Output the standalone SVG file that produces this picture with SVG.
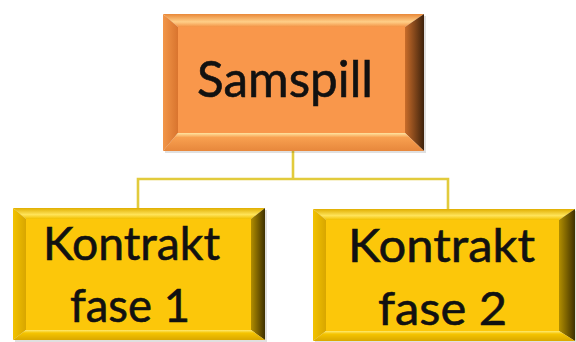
<svg xmlns="http://www.w3.org/2000/svg" width="576" height="342" viewBox="0 0 576 342">
<defs>
<style>
.lbl{font-family:Lato,"Open Sans","Liberation Sans",sans-serif;fill:#111;stroke:#111;stroke-width:0.6;text-anchor:middle}
.conn{fill:none;stroke:#E2CB3C;stroke-width:2.6}
</style>
<linearGradient id="oR" x1="0" y1="0" x2="1" y2="0"><stop offset="0" stop-color="#C96C2A"/><stop offset="1" stop-color="#3E220C"/></linearGradient>
<linearGradient id="oT" x1="0" y1="0" x2="0" y2="1"><stop offset="0" stop-color="#E98838"/><stop offset="0.6" stop-color="#FFCF88"/><stop offset="1" stop-color="#F39244"/></linearGradient>
<linearGradient id="oB" x1="0" y1="0" x2="0" y2="1"><stop offset="0" stop-color="#FFE3A0"/><stop offset="0.25" stop-color="#F8A050"/><stop offset="1" stop-color="#E7873C"/></linearGradient>
<linearGradient id="oL" x1="0" y1="0" x2="1" y2="0"><stop offset="0" stop-color="#F29648"/><stop offset="1" stop-color="#D9742E"/></linearGradient>
<linearGradient id="yR" x1="0" y1="0" x2="1" y2="0"><stop offset="0" stop-color="#B28E00"/><stop offset="1" stop-color="#3E3000"/></linearGradient>
<linearGradient id="yT" x1="0" y1="0" x2="0" y2="1"><stop offset="0" stop-color="#E0AE00"/><stop offset="0.6" stop-color="#FFE45A"/><stop offset="1" stop-color="#F2C000"/></linearGradient>
<linearGradient id="yB" x1="0" y1="0" x2="0" y2="1"><stop offset="0" stop-color="#FFEA70"/><stop offset="0.3" stop-color="#F5C400"/><stop offset="1" stop-color="#D9A800"/></linearGradient>
<linearGradient id="yL" x1="0" y1="0" x2="1" y2="0"><stop offset="0" stop-color="#F2C200"/><stop offset="1" stop-color="#D8A600"/></linearGradient>
</defs>
<rect width="576" height="342" fill="#FFFFFF"/>
<g id="connectors">
<polyline class="conn" points="293,151 293,179"/>
<polyline class="conn" points="138,208 138,179 448,179 448,209"/>
</g>
<g id="samspill">
<rect x="165" y="16" width="261" height="137" fill="#000" opacity="0.12"/>
<polygon points="163,14 424,14 405,27 178,27" fill="url(#oT)"/>
<polygon points="163,14 178,27 178,133 163,151" fill="url(#oL)"/>
<polygon points="424,14 424,151 405,133 405,27" fill="url(#oR)"/>
<polygon points="163,151 178,133 405,133 424,151" fill="url(#oB)"/>
<rect x="178" y="27" width="227" height="106" fill="#F9974B"/>
<text class="lbl" x="285" y="97" font-size="50" textLength="176" lengthAdjust="spacingAndGlyphs">Samspill</text>
</g>
<g id="fase1">
<rect x="15" y="210" width="252" height="132" fill="#000" opacity="0.12"/>
<polygon points="13,208 265,208 251,219 26,219" fill="url(#yT)"/>
<polygon points="13,208 26,219 26,330 13,340" fill="url(#yL)"/>
<polygon points="265,208 265,340 251,330 251,219" fill="url(#yR)"/>
<polygon points="13,340 26,330 251,330 265,340" fill="url(#yB)"/>
<rect x="26" y="219" width="225" height="111" fill="#FCC70A"/>
<text class="lbl" x="131.5" y="260" font-size="46" textLength="177" lengthAdjust="spacingAndGlyphs">Kontrakt</text>
<text class="lbl" x="130" y="322" font-size="46" textLength="120" lengthAdjust="spacingAndGlyphs">fase 1</text>
</g>
<g id="fase2">
<rect x="315" y="211" width="262" height="132" fill="#000" opacity="0.12"/>
<polygon points="313,209 575,209 559,220 326,220" fill="url(#yT)"/>
<polygon points="313,209 326,220 326,331 313,341" fill="url(#yL)"/>
<polygon points="575,209 575,341 559,331 559,220" fill="url(#yR)"/>
<polygon points="313,341 326,331 559,331 575,341" fill="url(#yB)"/>
<rect x="326" y="220" width="233" height="111" fill="#FCC70A"/>
<text class="lbl" x="441.5" y="262" font-size="47" textLength="187" lengthAdjust="spacingAndGlyphs">Kontrakt</text>
<text class="lbl" x="442.5" y="325" font-size="47" textLength="129" lengthAdjust="spacingAndGlyphs">fase 2</text>
</g>
</svg>
